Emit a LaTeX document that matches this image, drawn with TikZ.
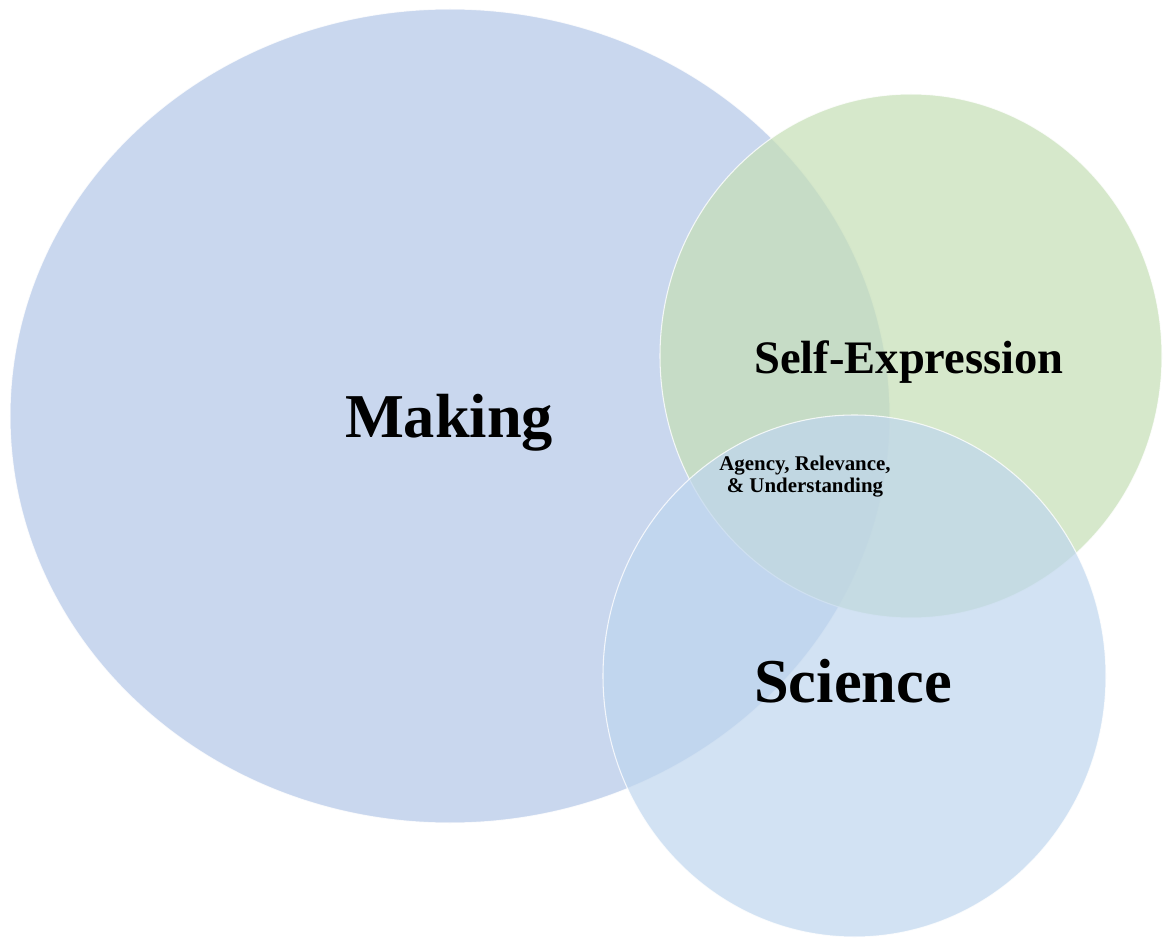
\documentclass[tikz,border=0pt]{standalone}
\usepackage{fontspec}
\setmainfont{Liberation Serif}
\usetikzlibrary{shapes.geometric,positioning}

\definecolor{makingblue}{RGB}{201,215,238}
\definecolor{selfgreen}{RGB}{198,223,183}
\definecolor{scienceblue}{RGB}{191,214,238}

\tikzset{
  set/.style={ellipse, inner sep=0pt, draw=white, line width=0.6pt, draw opacity=0.8},
  biglabel/.style={font=\bfseries\fontsize{35.5}{40}\selectfont},
  midlabel/.style={font=\bfseries\fontsize{26.5}{30}\selectfont},
  smalllabel/.style={font=\bfseries\fontsize{11.9}{12.8}\selectfont, align=center}
}

\begin{document}
\begin{tikzpicture}[]
                  \useasboundingbox (0,0) rectangle (23.3,-18.8);
                  \node [set, fill=makingblue, minimum width=17.6cm, minimum height=16.28cm] (making) at (9.0,-8.32) {};
                  \node [set, fill=selfgreen, fill opacity=0.72, minimum width=10.04cm, minimum height=10.48cm] (self) at (18.22,-7.12) {};
                  \node [set, fill=scienceblue, fill opacity=0.7, minimum width=10.06cm, minimum height=10.44cm] (science) at (17.09,-13.52) {};
                  \node [biglabel] (makingtxt) at (8.98,-8.46) {Making};
                  \node [midlabel] (selftxt) at (18.18,-7.24) {Self-Expression};
                  \node [biglabel] (sciencetxt) at (17.06,-13.62) {Science};
                  \node [smalllabel] (core) at (16.1,-9.53) {Agency, Relevance,\\ \& Understanding};
\end{tikzpicture}
\end{document}
